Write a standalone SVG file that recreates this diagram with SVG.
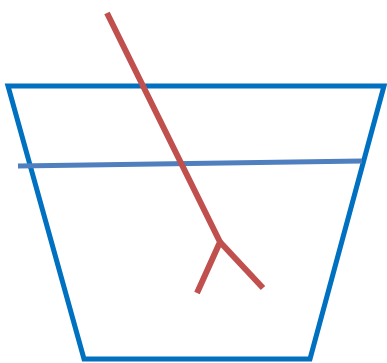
<svg xmlns="http://www.w3.org/2000/svg" width="387" height="363" viewBox="0 0 387 363">
<style>
.glass{fill:none;stroke:#0070C0;stroke-width:5;stroke-linejoin:miter}
.water{fill:none;stroke:#4F7FBE;stroke-width:5}
.stick{fill:none;stroke:#C0504D;stroke-width:6;stroke-linejoin:miter}
</style>
<rect width="387" height="363" fill="#fff"/>
<g id="glass"><polygon class="glass" points="8,86 384,86 310,359 84,359"/></g>
<g id="water"><line class="water" x1="18" y1="166" x2="362" y2="161"/></g>
<g id="stick"><polyline class="stick" points="107,13 220,242 197,293"/><line class="stick" x1="220" y1="242" x2="263" y2="288"/></g>
</svg>
